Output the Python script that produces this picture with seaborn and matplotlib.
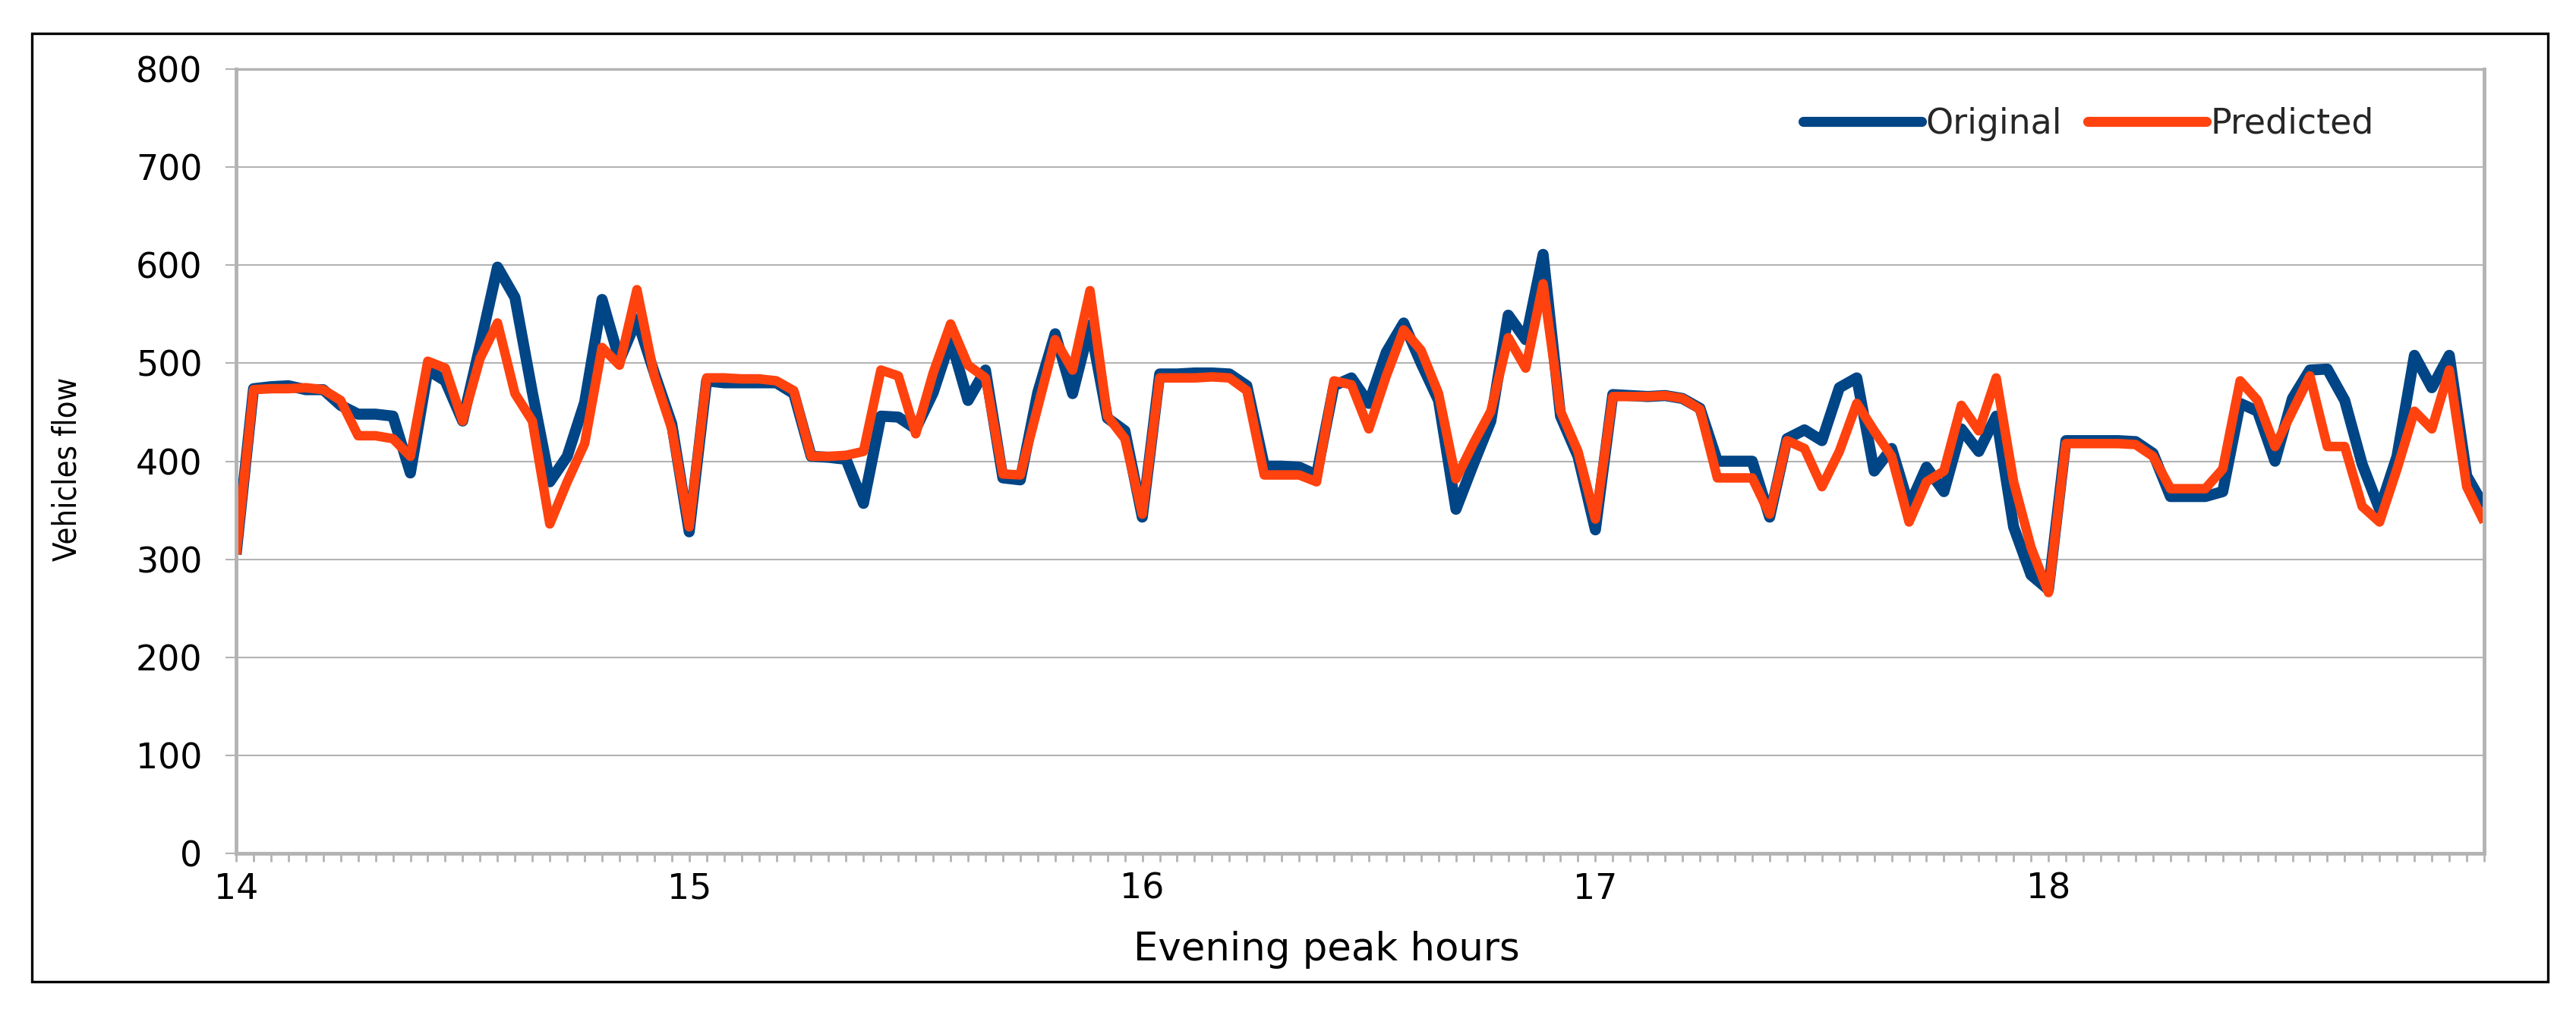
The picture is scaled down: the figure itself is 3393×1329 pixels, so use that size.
import numpy as np
import pandas as pd
import matplotlib
matplotlib.use("Agg")
import matplotlib.pyplot as plt
import seaborn as sns
from matplotlib.ticker import FixedLocator
from matplotlib.patches import Rectangle

# ---------------- data ----------------
hour_labels = ["14", "15", "16", "17", "18"]
samples_per_hour = 26
start_hour = 14

original = [
    305, 474, 476, 477, 473, 473, 457, 448, 448, 446,
    388, 493, 482, 441, 518, 598, 567, 470, 379, 405,
    460, 565, 503, 545, 490, 438, 328, 482, 480, 480,
    480, 480, 469, 405, 404, 402, 357, 446, 445, 433,
    470, 524, 462, 493, 383, 381, 470, 530, 469, 539,
    444, 431, 343, 489, 489, 490, 490, 489, 477, 395,
    395, 394, 386, 477, 485, 459, 511, 541, 500, 462,
    351, 397, 441, 549, 524, 611, 446, 405, 330, 468,
    467, 466, 467, 464, 454, 400, 400, 400, 343, 423,
    432, 421, 475, 485, 390, 413, 354, 394, 369, 433,
    410, 446, 333, 284, 269, 421, 421, 421, 421, 420,
    408, 364, 364, 364, 369, 459, 451, 400, 464, 493,
    494, 462, 397, 351, 405, 508, 475, 508, 385, 354,
]

predicted = [
    305, 473, 474, 474, 475, 473, 462, 426, 426, 423,
    405, 502, 495, 441, 505, 541, 469, 441, 336, 379,
    418, 516, 498, 575, 487, 433, 333, 485, 485, 484,
    484, 482, 472, 405, 405, 406, 410, 493, 487, 428,
    490, 540, 498, 485, 387, 386, 455, 524, 493, 574,
    446, 423, 346, 485, 485, 485, 486, 485, 472, 386,
    386, 386, 379, 482, 478, 433, 487, 534, 513, 469,
    382, 418, 451, 526, 495, 581, 451, 410, 341, 466,
    466, 466, 467, 464, 453, 383, 383, 383, 346, 421,
    413, 374, 410, 459, 431, 405, 338, 379, 390, 457,
    431, 485, 379, 312, 266, 418, 418, 418, 418, 417,
    405, 372, 372, 372, 392, 482, 462, 415, 451, 487,
    415, 415, 354, 338, 392, 451, 433, 493, 374, 338,
]

n = len(original)
t = start_hour + np.arange(n) / samples_per_hour
df = pd.DataFrame({"t": t, "Original": original, "Predicted": predicted})

# ---------------- styling ----------------
sns.set_style("white")
plt.rcParams["font.family"] = ["DejaVu Sans"]

GRID = "#b3b3b3"
BLUE = "#004586"
ORANGE = "#ff420e"

W, H = 3393, 1329
fig = plt.figure(figsize=(W / 100, H / 100), dpi=100)
L, R, T, B = 311, 3272, 91, 1124
ax = fig.add_axes([L / W, 1 - B / H, (R - L) / W, (B - T) / H])

sns.lineplot(data=df, x="t", y="Original", ax=ax, color=BLUE, linewidth=10.5,
             label="Original", solid_joinstyle="round", solid_capstyle="butt")
sns.lineplot(data=df, x="t", y="Predicted", ax=ax, color=ORANGE, linewidth=9,
             label="Predicted", solid_joinstyle="round", solid_capstyle="butt")

ax.set_xlim(t[0], t[-1])
ax.set_ylim(0, 800)
ax.set_yticks(range(0, 801, 100))
ax.set_xticks([start_hour + i for i in range(len(hour_labels))])
ax.set_xticklabels(hour_labels)
ax.xaxis.set_minor_locator(FixedLocator(t))

ax.yaxis.grid(True, color=GRID, linewidth=1.5)
ax.xaxis.grid(False)
ax.set_axisbelow(True)

for side in ["left", "right", "bottom"]:
    ax.spines[side].set_color(GRID)
    ax.spines[side].set_linewidth(3.5)
ax.spines["top"].set_color(GRID)
ax.spines["top"].set_linewidth(2.5)

ax.tick_params(axis="y", which="major", direction="out", length=10, width=1.5,
               color=GRID, pad=22, labelsize=33, labelcolor="black", left=True)
ax.tick_params(axis="x", which="both", direction="out", length=8, width=2,
               color=GRID, pad=10, labelsize=33, labelcolor="black", bottom=True)

ax.set_xlabel("Evening peak hours", fontsize=37, color="black")
ax.xaxis.label.set_va("center")
ax.xaxis.set_label_coords(0.485, -0.123)

ax.set_ylabel("Vehicles flow", fontsize=30, color="black", fontstretch="condensed")
ax.yaxis.label.set_va("center")
ax.yaxis.set_label_coords(-0.075, 0.49)

leg = ax.legend(loc="center left", bbox_to_anchor=(0.697, 0.930), frameon=False,
                fontsize=33, handlelength=3.4, handletextpad=0.12, columnspacing=0.75,
                ncol=2, borderpad=0, borderaxespad=0)
for line in leg.get_lines():
    line.set_linewidth(9.5)
    line.set_solid_capstyle("round")

# outer black frame
fig.patches.append(Rectangle((41.5 / W, 1 - 1292.5 / H), (3355.5 - 41.5) / W,
                             (1292.5 - 44) / H, transform=fig.transFigure,
                             fill=False, edgecolor="black", linewidth=2.4))

fig.savefig("out.png", dpi=100)
